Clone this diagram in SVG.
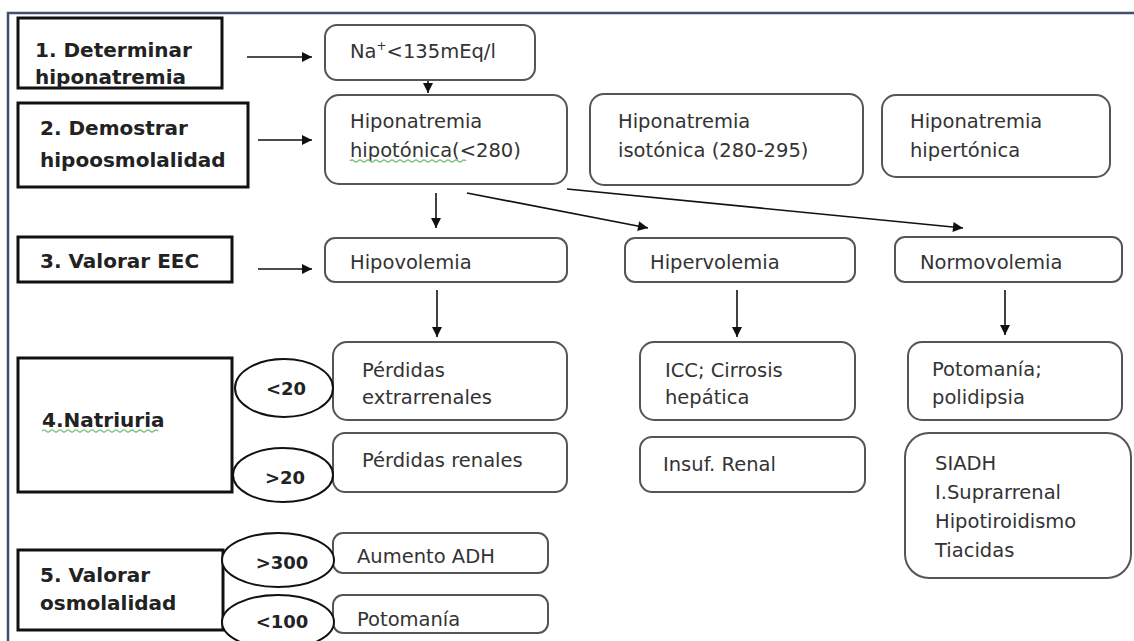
<svg xmlns="http://www.w3.org/2000/svg" width="1134" height="641" viewBox="0 0 1134 641">
<defs>
<marker id="ah" viewBox="0 0 10 10" refX="10" refY="5" markerWidth="11" markerHeight="10" markerUnits="userSpaceOnUse" orient="auto">
<path d="M0,0 L10,5 L0,10 z" fill="#111"/>
</marker>
<style>
.step{fill:#fff;stroke:#111;stroke-width:3}
.rbox{fill:#fff;stroke:#555;stroke-width:2}
.ell{fill:#fff;stroke:#111;stroke-width:2}
.bt{font-family:"DejaVu Sans",Verdana,sans-serif;font-weight:bold;font-size:20px;fill:#222}
.t{font-family:"DejaVu Sans",Verdana,sans-serif;font-size:19.5px;fill:#333}
.et{font-family:"DejaVu Sans",Verdana,sans-serif;font-weight:bold;font-size:18px;fill:#222;text-anchor:middle}
.con{stroke:#111;stroke-width:1.6;fill:none;marker-end:url(#ah)}
.wavy{stroke:#7cc47c;stroke-width:1.2;fill:none}
</style>
</defs>
<rect width="1134" height="641" fill="#fff"/>
<path d="M8,641 L8,13 L1134,13" fill="none" stroke="#41506a" stroke-width="2.5"/>

<g id="connectors">
<line class="con" x1="247" y1="57" x2="312" y2="57"/>
<line class="con" x1="258" y1="140" x2="312" y2="140"/>
<line class="con" x1="428" y1="80" x2="428" y2="93"/>
<line class="con" x1="436" y1="193" x2="436" y2="228"/>
<line class="con" x1="467" y1="193" x2="648" y2="228"/>
<line class="con" x1="567" y1="189" x2="963" y2="228"/>
<line class="con" x1="258" y1="269" x2="312" y2="269"/>
<line class="con" x1="437" y1="290" x2="437" y2="337"/>
<line class="con" x1="737" y1="290" x2="737" y2="337"/>
<line class="con" x1="1005" y1="290" x2="1005" y2="335"/>
</g>

<g id="step1"><rect class="step" x="18" y="18" width="204" height="70"/>
<text class="bt" x="35" y="57">1. Determinar</text><text class="bt" x="35" y="84">hiponatremia</text></g>
<g id="step2"><rect class="step" x="18" y="103" width="230" height="84"/>
<text class="bt" x="40" y="135">2. Demostrar</text><text class="bt" x="40" y="167">hipoosmolalidad</text></g>
<g id="step3"><rect class="step" x="18" y="237" width="214" height="45"/>
<text class="bt" x="40" y="268">3. Valorar EEC</text></g>
<g id="step4"><rect class="step" x="18" y="358" width="214" height="134"/>
<text class="bt" x="42" y="427">4.Natriuria</text>
<path class="wavy" d="M42,431 q2,-2 4,0 t4,0 t4,0 t4,0 t4,0 t4,0 t4,0 t4,0 t4,0 t4,0 t4,0 t4,0 t4,0 t4,0 t4,0 t4,0 t4,0 t4,0 t4,0 t4,0 t4,0 t4,0 t4,0 t4,0 t4,0 t4,0 t4,0 t4,0 t4,0"/></g>
<g id="step5"><rect class="step" x="18" y="550" width="205" height="80"/>
<text class="bt" x="40" y="582">5. Valorar</text><text class="bt" x="40" y="610">osmolalidad</text></g>

<g id="na"><rect class="rbox" x="325" y="25" width="210" height="55" rx="12"/>
<text class="t" x="350" y="58">Na<tspan font-size="12" dy="-8">+</tspan><tspan dy="8">&lt;135mEq/l</tspan></text></g>
<g id="hipotonica"><rect class="rbox" x="325" y="95" width="242" height="89" rx="14"/>
<text class="t" x="350" y="128">Hiponatremia</text><text class="t" x="350" y="157">hipotónica(&lt;280)</text>
<path class="wavy" d="M350,161 q2,-2 4,0 t4,0 t4,0 t4,0 t4,0 t4,0 t4,0 t4,0 t4,0 t4,0 t4,0 t4,0 t4,0 t4,0 t4,0 t4,0 t4,0 t4,0 t4,0 t4,0 t4,0 t4,0 t4,0 t4,0 t4,0 t4,0 t4,0 t4,0 t4,0"/></g>
<g id="isotonica"><rect class="rbox" x="590" y="94" width="273" height="91" rx="14"/>
<text class="t" x="618" y="128">Hiponatremia</text><text class="t" x="618" y="157">isotónica (280-295)</text></g>
<g id="hipertonica"><rect class="rbox" x="882" y="95" width="228" height="82" rx="14"/>
<text class="t" x="910" y="128">Hiponatremia</text><text class="t" x="910" y="157">hipertónica</text></g>

<g id="hipovolemia"><rect class="rbox" x="325" y="238" width="242" height="44" rx="10"/>
<text class="t" x="350" y="269">Hipovolemia</text></g>
<g id="hipervolemia"><rect class="rbox" x="625" y="238" width="230" height="44" rx="10"/>
<text class="t" x="650" y="269">Hipervolemia</text></g>
<g id="normovolemia"><rect class="rbox" x="895" y="237" width="227" height="45" rx="10"/>
<text class="t" x="920" y="269">Normovolemia</text></g>

<g id="extrarrenales"><rect class="rbox" x="333" y="342" width="234" height="78" rx="14"/>
<text class="t" x="362" y="377">Pérdidas</text><text class="t" x="362" y="404">extrarrenales</text></g>
<g id="icc"><rect class="rbox" x="640" y="342" width="215" height="78" rx="14"/>
<text class="t" x="665" y="377">ICC; Cirrosis</text><text class="t" x="665" y="404">hepática</text></g>
<g id="potomania1"><rect class="rbox" x="908" y="342" width="214" height="78" rx="14"/>
<text class="t" x="932" y="376">Potomanía;</text><text class="t" x="932" y="404">polidipsia</text></g>

<g id="renales"><rect class="rbox" x="333" y="433" width="234" height="59" rx="12"/>
<text class="t" x="362" y="467">Pérdidas renales</text></g>
<g id="insuf"><rect class="rbox" x="640" y="437" width="225" height="55" rx="12"/>
<text class="t" x="663" y="471">Insuf. Renal</text></g>
<g id="siadh"><rect class="rbox" x="905" y="433" width="226" height="145" rx="24"/>
<text class="t" x="935" y="470">SIADH</text><text class="t" x="935" y="499">I.Suprarrenal</text><text class="t" x="935" y="528">Hipotiroidismo</text><text class="t" x="935" y="557">Tiacidas</text></g>

<g id="aumento"><rect class="rbox" x="333" y="533" width="215" height="40" rx="10"/>
<text class="t" x="357" y="563">Aumento ADH</text></g>
<g id="potomania2"><rect class="rbox" x="333" y="595" width="215" height="38" rx="10"/>
<text class="t" x="357" y="626">Potomanía</text></g>

<g id="e20a"><ellipse class="ell" cx="284" cy="388" rx="49" ry="29"/><text class="et" x="286" y="395">&lt;20</text></g>
<g id="e20b"><ellipse class="ell" cx="283" cy="475" rx="50" ry="27"/><text class="et" x="285" y="484">&gt;20</text></g>
<g id="e300"><ellipse class="ell" cx="278" cy="560" rx="56" ry="27"/><text class="et" x="282" y="569">&gt;300</text></g>
<g id="e100"><ellipse class="ell" cx="278" cy="622" rx="56" ry="27"/><text class="et" x="282" y="628">&lt;100</text></g>
</svg>
